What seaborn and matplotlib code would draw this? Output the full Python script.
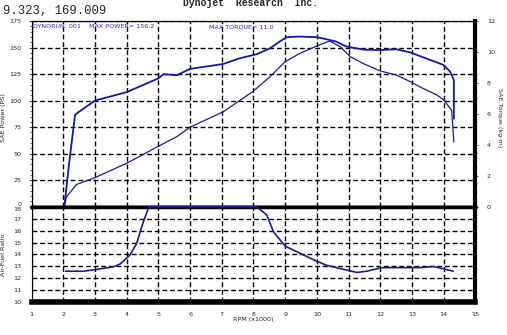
import numpy as np
import pandas as pd
import matplotlib
matplotlib.use("Agg")
import matplotlib.pyplot as plt
from matplotlib.ticker import MultipleLocator
import seaborn as sns

# readings taken off the dyno sheet
rpm_power = [2.03, 2.1, 2.42, 3.0, 4.0, 5.0, 5.58, 6.0, 7.05, 8.0, 8.52, 9.0, 9.47,
             10.0, 10.4, 10.73, 11.05, 11.46, 12.0, 12.5, 12.94, 13.25, 13.78, 14.0,
             14.25, 14.32]
power = [0, 9.4, 21, 27.4, 41, 57, 66, 75, 89.6, 109, 122.6, 136.8, 144.7,
         151.6, 156.2, 151, 141.5, 135, 128, 124.2, 118, 113, 105.4, 100.7,
         91, 61]

rpm_torque = [2.03, 2.2, 2.37, 2.47, 3.0, 4.0, 5.0, 5.16, 5.58, 6.0, 7.05, 7.57, 8.1,
              8.52, 8.84, 9.05, 9.47, 10.0, 10.3, 10.6, 10.94, 11.5, 12.0, 12.5,
              12.94, 13.57, 13.99, 14.2, 14.32, 14.32]
torque = [0, 3.09, 5.93, 6.10, 6.86, 7.41, 8.30, 8.57, 8.50, 8.91, 9.23, 9.60, 9.86,
          10.24, 10.70, 10.96, 11.0, 10.96, 10.83, 10.68, 10.35, 10.15, 10.13, 10.18,
          9.98, 9.49, 9.17, 8.74, 8.19, 5.69]

rpm_afr = [2.07, 2.63, 3.05, 3.58, 3.79, 4.1, 4.31, 4.52, 4.7, 8.1, 8.42, 8.63, 9.0,
           9.47, 9.94, 10.3, 10.94, 11.26, 11.57, 12.04, 12.6, 13.25, 13.67, 14.0, 14.3]
afr = [12.6, 12.6, 12.75, 12.97, 13.2, 13.95, 14.9, 16.7, 18, 18, 17.3, 15.9, 14.7,
       14.1, 13.5, 13.1, 12.7, 12.5, 12.6, 12.9, 12.9, 12.9, 13.0, 12.8, 12.6]

power_ticks = list(range(0, 176, 25))
torque_ticks = list(range(0, 13, 2))
afr_ticks = list(range(10, 19))
rpm_ticks = list(range(1, 16))

sns.set_style("white")
plt.rcParams['font.family'] = ['Liberation Sans Narrow', 'DejaVu Sans']
plt.rcParams['font.size'] = 4.6

line_col = '#1a1aa0'
grid_kw = dict(color='black', linestyle=(0, (3.5, 2)), linewidth=1.0)

fig = plt.figure(figsize=(5.07, 3.35), dpi=100)
left, width = 31.6 / 507, (475.4 - 31.6) / 507
ax = fig.add_axes([left, 0.383, width, 0.554])
ax2 = ax.twinx()
axb = fig.add_axes([left, 0.0976, width, 0.2854], sharex=ax)

# power / torque panel
sns.lineplot(x=rpm_power, y=power, ax=ax, sort=False, estimator=None,
             color=line_col, linewidth=0.9)
sns.lineplot(x=rpm_torque, y=torque, ax=ax2, sort=False, estimator=None,
             color='#1414b4', linewidth=1.3)
ax.set_xlim(1, 15)
ax.set_ylim(0, 175)
ax2.set_ylim(0, 12)
ax.set_yticks(power_ticks)
ax.yaxis.set_minor_locator(MultipleLocator(5))
ax2.set_yticks(torque_ticks)
ax2.yaxis.set_minor_locator(MultipleLocator(0.5))
ax.set_xticks(rpm_ticks)
ax.grid(True, **grid_kw)
ax.tick_params(axis='x', labelbottom=False, length=0)
ax.tick_params(axis='y', which='major', direction='out', length=2.2, width=0.6, pad=5)
ax.tick_params(axis='y', which='minor', direction='out', length=1.2, width=0.5)
ax2.tick_params(axis='y', which='major', direction='out', length=2.2, width=0.6, pad=6)
ax2.tick_params(axis='y', which='minor', direction='out', length=1.2, width=0.5)
ax.set_ylabel('SAE Power (PS)')
ax.yaxis.set_label_coords(-0.058, 0.48)
ax2.set_ylabel('SAE Torque (kg-m)', rotation=270, va='center')
ax2.yaxis.set_label_coords(1.055, 0.48)
ax.set_xlabel('')
ax.get_yticklabels()[0].set_va('bottom')
for a in (ax, ax2):
    for s in a.spines.values():
        s.set_color('black')
        s.set_linewidth(0.8)
ax.spines['bottom'].set_linewidth(2.5)
ax2.spines['bottom'].set_linewidth(2.5)
ax2.spines['right'].set_linewidth(3.0)
for l in ax.lines + ax2.lines:
    l.set_clip_on(False)
    l.set_zorder(4)

ax.text(1.05, 172, 'DYNORUN: 001    MAX POWER= 156.2', color='#2a2acc',
        fontsize=4.6, va='top', ha='left')
ax.text(6.6, 172, 'MAX TORQUE= 11.0', color='#2a2acc',
        fontsize=4.6, va='top', ha='left')

# air-fuel ratio panel
sns.lineplot(x=rpm_afr, y=afr, ax=axb, sort=False, estimator=None,
             color=line_col, linewidth=1.2)
axb.set_ylim(10, 18)
axb.set_yticks(afr_ticks)
axb.yaxis.set_minor_locator(MultipleLocator(0.5))
axb.xaxis.set_minor_locator(MultipleLocator(1 / 3))
axb.grid(True, **grid_kw)
axb.tick_params(axis='x', which='both', direction='in', length=3, width=0.6, pad=7)
axb.tick_params(axis='y', which='major', direction='out', length=2.2, width=0.6, pad=5)
axb.tick_params(axis='y', which='minor', direction='out', length=1.2, width=0.5)
axb.set_ylabel('Air-Fuel Ratio')
axb.yaxis.set_label_coords(-0.058, 0.5)
axb.set_xlabel('RPM (x1000)', labelpad=0)
axb.get_yticklabels()[-1].set_va('top')
for s in axb.spines.values():
    s.set_color('black')
    s.set_linewidth(0.8)
axb.spines['top'].set_linewidth(2.5)
axb.spines['bottom'].set_linewidth(4)
axb.spines['right'].set_linewidth(3.0)
for l in axb.lines:
    l.set_clip_on(False)
    l.set_zorder(4)

fig.text(0.005, 1 - 14 / 335, '9.323, 169.009', family='Liberation Mono',
         fontsize=8.8, ha='left', va='baseline')
fig.text(183 / 507, 1 - 6 / 335, 'Dynojet  Research  Inc.', family='Liberation Mono',
         fontweight='bold', fontsize=7.0, ha='left', va='baseline')

fig.savefig('out.png', dpi=100)
